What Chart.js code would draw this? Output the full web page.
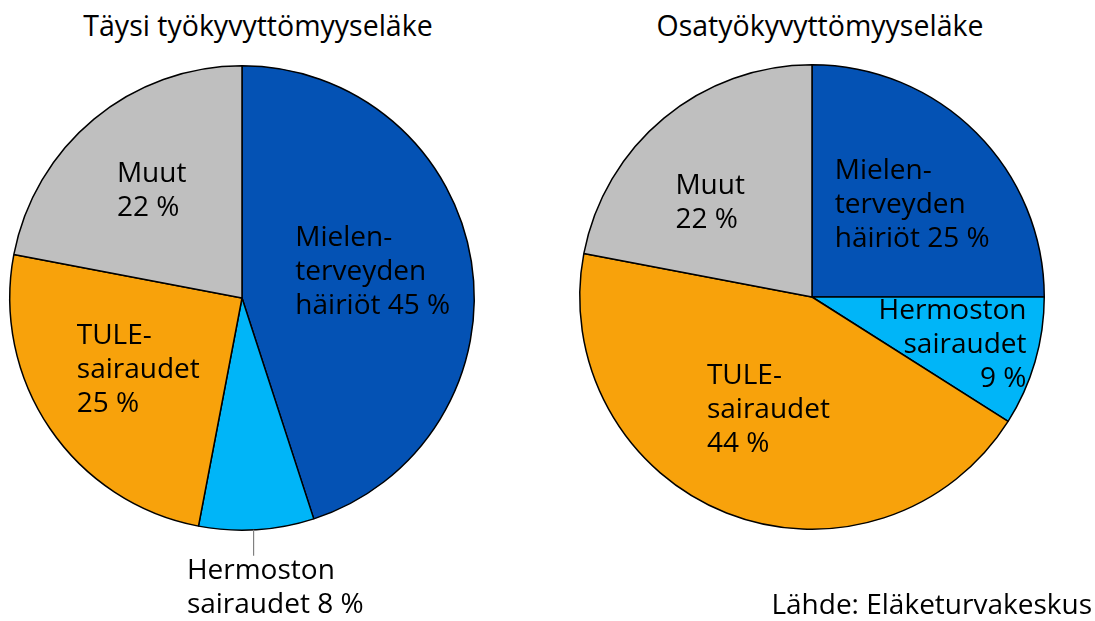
<!DOCTYPE html>
<html>
<head>
<meta charset="utf-8">
<script src="https://cdn.jsdelivr.net/npm/chart.js@4/dist/chart.umd.min.js"></script>
<style>
  body { margin: 0; width: 1095px; height: 621px; background: #fff; position: relative; overflow: hidden; font-family: "Open Sans", sans-serif; }
  canvas { position: absolute; top: 0; }
  .title { position: absolute; top: 6px; font-size: 28.5px; color: #000; white-space: nowrap; transform: translateX(-50%); }
  #src { position: absolute; right: 3px; top: 584px; font-size: 28px; color: #000; white-space: nowrap; }
</style>
</head>
<body>
<div class="title" style="left:258px">Täysi työkyvyttömyyseläke</div>
<div class="title" style="left:820px">Osatyökyvyttömyyseläke</div>
<canvas id="fullChart" width="540" height="621" style="left:0"></canvas>
<canvas id="partChart" width="550" height="621" style="left:545px"></canvas>
<div id="src">Lähde: Eläketurvakeskus</div>
<script>
const categories = ["Mielenterveyden häiriöt", "Hermoston sairaudet", "TULE-sairaudet", "Muut"];
const fullValues = [45, 8, 25, 22];
const partValues = [25, 9, 44, 22];
const sliceColors = ["#0452b4", "#00b5f8", "#f8a20b", "#bfbfbf"];

// label blocks: placed along the slice's mid angle, r = fraction of radius
const fullLabels = [
  { lines: ["Mielen-", "terveyden", "häiriöt 45 %"], r: 0.57, align: "left", dy: -5 },
  { lines: ["Hermoston", "sairaudet 8 %"], r: 1.25, align: "left", leader: true, dx: 15 },
  { lines: ["TULE-", "sairaudet", "25 %"], r: 0.54, align: "left", dy: 2 },
  { lines: ["Muut", "22 %"], r: 0.61, align: "left", dy: 2 }
];
const partLabels = [
  { lines: ["Mielen-", "terveyden", "häiriöt 25 %"], r: 0.61, align: "left", dy: 8 },
  { lines: ["Hermoston", "sairaudet", "9 %"], r: 0.63, align: "right", dy: 7 },
  { lines: ["TULE-", "sairaudet", "44 %"], r: 0.51, align: "left", dy: 3 },
  { lines: ["Muut", "22 %"], r: 0.6, align: "left", dx: -13, dy: 13 }
];

const sliceLabels = {
  id: "sliceLabels",
  afterDatasetsDraw(chart, args, opts) {
    const ctx = chart.ctx;
    const arcs = chart.getDatasetMeta(0).data;
    ctx.save();
    ctx.font = "28px 'Open Sans', sans-serif";
    ctx.fillStyle = "#000";
    ctx.textBaseline = "middle";
    const lh = 34;
    opts.labels.forEach((lab, i) => {
      const a = arcs[i];
      const mid = (a.startAngle + a.endAngle) / 2;
      const R = a.outerRadius;
      const bx = a.x + Math.cos(mid) * R * lab.r + (lab.dx || 0);
      const by = a.y + Math.sin(mid) * R * lab.r + (lab.dy || 0);
      const w = Math.max(...lab.lines.map(l => ctx.measureText(l).width));
      const h = lab.lines.length * lh;
      if (lab.leader) {
        const ex = a.x + Math.cos(mid) * R;
        const ey = a.y + Math.sin(mid) * R;
        ctx.strokeStyle = "#808080";
        ctx.lineWidth = 1.2;
        ctx.beginPath();
        ctx.moveTo(ex - 3, ey);
        ctx.lineTo(ex - 3, by - h / 2 + 2);
        ctx.stroke();
      }
      ctx.textAlign = lab.align;
      const x = lab.align === "left" ? bx - w / 2 : bx + w / 2;
      lab.lines.forEach((l, j) => {
        ctx.fillText(l, x, by - h / 2 + lh / 2 + j * lh);
      });
    });
    ctx.restore();
  }
};

function makePie(id, values, labels, padding) {
  return new Chart(document.getElementById(id).getContext("2d"), {
    type: "pie",
    data: {
      labels: categories,
      datasets: [{ data: values, backgroundColor: sliceColors, borderColor: "#000", borderWidth: 1.5 }]
    },
    options: {
      responsive: false,
      animation: false,
      devicePixelRatio: 1,
      layout: { padding: padding },
      plugins: {
        legend: { display: false },
        tooltip: { enabled: false },
        sliceLabels: { labels: labels }
      }
    },
    plugins: [sliceLabels]
  });
}

makePie("fullChart", fullValues, fullLabels, { left: 9, top: 65, right: 65, bottom: 90 });
makePie("partChart", partValues, partLabels, { left: 34, top: 64, right: 50, bottom: 91 });
</script>
</body>
</html>
